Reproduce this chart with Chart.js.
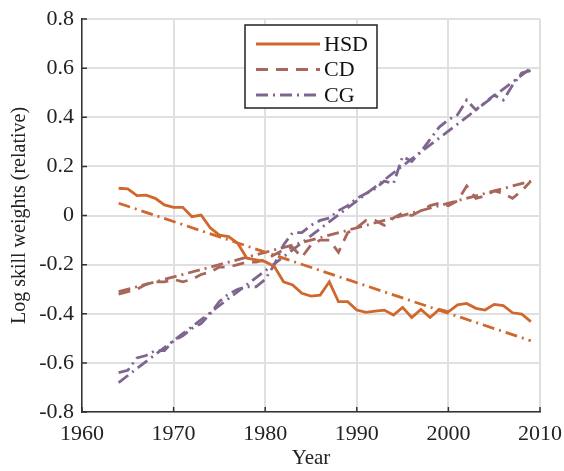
<!DOCTYPE html>
<html>
<head>
<meta charset="utf-8">
<script src="https://cdn.jsdelivr.net/npm/chart.js@4"></script>
<style>
  html, body { margin: 0; padding: 0; background: #fff; }
  #wrap { width: 564px; height: 471px; position: relative; }
</style>
</head>
<body>
<div id="wrap"><canvas id="chart" width="564" height="471"></canvas></div>
<script>
// Years and series
const years = [1964, 1965, 1966, 1967, 1968, 1969, 1970, 1971, 1972, 1973,
  1974, 1975, 1976, 1977, 1978, 1979, 1980, 1981, 1982, 1983,
  1984, 1985, 1986, 1987, 1988, 1989, 1990, 1991, 1992, 1993,
  1994, 1995, 1996, 1997, 1998, 1999, 2000, 2001, 2002, 2003,
  2004, 2005, 2006, 2007, 2008, 2009];

const hsd = [0.111, 0.108, 0.081, 0.083, 0.070, 0.043, 0.033, 0.033, -0.005, 0.002,
  -0.05, -0.08, -0.086, -0.113, -0.174, -0.181, -0.188, -0.208, -0.27, -0.283,
  -0.317, -0.328, -0.324, -0.27, -0.351, -0.351, -0.385, -0.394, -0.389, -0.385,
  -0.405, -0.374, -0.415, -0.382, -0.415, -0.382, -0.392, -0.364, -0.358, -0.378,
  -0.385, -0.362, -0.367, -0.396, -0.401, -0.432];

const cd = [-0.32, -0.31, -0.30, -0.28, -0.27, -0.27, -0.26, -0.27, -0.26, -0.24,
  -0.23, -0.21, -0.21, -0.20, -0.19, -0.19, -0.18, -0.16, -0.14, -0.13,
  -0.17, -0.12, -0.10, -0.10, -0.15, -0.07, -0.05, -0.02, -0.02, -0.04,
  -0.01, 0.01, 0.00, 0.02, 0.04, 0.05, 0.04, 0.06, 0.12, 0.07,
  0.08, 0.10, 0.09, 0.07, 0.10, 0.14];

const cg = [-0.64, -0.63, -0.58, -0.57, -0.55, -0.55, -0.51, -0.49, -0.46, -0.44,
  -0.40, -0.35, -0.32, -0.30, -0.29, -0.29, -0.26, -0.20, -0.12, -0.07,
  -0.07, -0.04, -0.02, -0.01, 0.02, 0.04, 0.07, 0.09, 0.11, 0.14,
  0.13, 0.24, 0.22, 0.26, 0.31, 0.36, 0.39, 0.41, 0.47, 0.43,
  0.46, 0.49, 0.47, 0.53, 0.58, 0.59];

// Trend line end points
const trendYears = [1964, 2009];
const hsdTrend = [0.05, -0.51];
const cdTrend = [-0.31, 0.14];
const cgTrend = [-0.68, 0.60];

const xTicks = [1960, 1970, 1980, 1990, 2000, 2010];

const colHSD = "#d0672c";
const colCD = "#a9665a";
const colCG = "#7e6690";
const dashed = [12, 8];
const dashDot = [12, 5, 2, 5];
const serif = "'Liberation Serif', 'DejaVu Serif', serif";

function toPoints(xs, ys) {
  return xs.map((x, i) => ({ x: x, y: ys[i] }));
}

function lineSet(label, xs, ys, color, dash) {
  return {
    label: label,
    data: toPoints(xs, ys),
    borderColor: color,
    borderWidth: 2.8,
    borderDash: dash,
    pointRadius: 0,
    fill: false,
    tension: 0,
  };
}

// legend drawn in the top middle of the plot, matlab style
const boxLegend = {
  id: "boxLegend",
  afterDatasetsDraw(chart) {
    const ctx = chart.ctx;
    const items = [
      ["HSD", colHSD, []],
      ["CD", colCD, dashed],
      ["CG", colCG, dashDot],
    ];
    const x0 = 245, y0 = 25, w = 132, h = 83;
    ctx.save();
    ctx.fillStyle = "#fff";
    ctx.fillRect(x0, y0, w, h);
    ctx.strokeStyle = "#222";
    ctx.lineWidth = 1.5;
    ctx.setLineDash([]);
    ctx.strokeRect(x0, y0, w, h);
    ctx.font = "22px " + serif;
    ctx.textBaseline = "middle";
    items.forEach((it, i) => {
      const y = y0 + 19 + i * 25.5;
      ctx.strokeStyle = it[1];
      ctx.lineWidth = 2.8;
      ctx.setLineDash(it[2]);
      ctx.beginPath();
      ctx.moveTo(x0 + 11, y);
      ctx.lineTo(x0 + 75, y);
      ctx.stroke();
      ctx.fillStyle = "#111";
      ctx.fillText(it[0], x0 + 79, y + 1);
    });
    ctx.restore();
  },
};

// small inward tick marks on the left and bottom axes
const innerTicks = {
  id: "innerTicks",
  afterDraw(chart) {
    const ctx = chart.ctx;
    const a = chart.chartArea;
    const xs = chart.scales.x, ys = chart.scales.y;
    ctx.save();
    ctx.strokeStyle = "#333";
    ctx.lineWidth = 1.5;
    ctx.beginPath();
    xs.ticks.forEach((t) => {
      const px = xs.getPixelForValue(t.value);
      ctx.moveTo(px, a.bottom);
      ctx.lineTo(px, a.bottom - 5);
    });
    ys.ticks.forEach((t) => {
      const py = ys.getPixelForValue(t.value);
      ctx.moveTo(a.left, py);
      ctx.lineTo(a.left + 5, py);
    });
    ctx.stroke();
    ctx.restore();
  },
};

const ctx = document.getElementById("chart").getContext("2d");
new Chart(ctx, {
  type: "line",
  data: {
    datasets: [
      lineSet("HSD", years, hsd, colHSD, []),
      lineSet("CD", years, cd, colCD, dashed),
      lineSet("CG", years, cg, colCG, dashDot),
      lineSet("HSD trend", trendYears, hsdTrend, colHSD, dashDot),
      lineSet("CD trend", trendYears, cdTrend, colCD, dashDot),
      lineSet("CG trend", trendYears, cgTrend, colCG, dashDot),
    ],
  },
  options: {
    responsive: false,
    animation: false,
    layout: { padding: { left: 0, right: 24, top: 19, bottom: 0 } },
    plugins: {
      legend: { display: false },
      tooltip: { enabled: false },
    },
    scales: {
      x: {
        type: "linear",
        min: 1960,
        max: 2010,
        afterBuildTicks: (scale) => {
          scale.ticks = xTicks.map((v) => ({ value: v }));
        },
        afterFit: (scale) => {
          scale.height = 59;
          scale.paddingLeft = 0;
          scale.paddingRight = 0;
        },
        grid: { color: "#e0e0e0", lineWidth: 2, drawTicks: false },
        border: { display: true, color: "#333", width: 1.5 },
        ticks: {
          padding: 9,
          color: "#222",
          font: { family: serif, size: 22 },
          callback: (v) => String(v),
          maxRotation: 0,
        },
        title: {
          display: true,
          text: "Year",
          color: "#222",
          font: { family: serif, size: 21 },
          padding: { top: 0, bottom: 0 },
        },
      },
      y: {
        min: -0.8,
        max: 0.8,
        ticks: {
          stepSize: 0.2,
          padding: 8,
          color: "#222",
          font: { family: serif, size: 22 },
          callback: (v) => String(Math.round(v * 10) / 10),
        },
        afterFit: (scale) => {
          scale.width = 82;
          scale.paddingTop = 0;
          scale.paddingBottom = 0;
        },
        grid: { color: "#e0e0e0", lineWidth: 2, drawTicks: false },
        border: { display: true, color: "#333", width: 1.5 },
        title: {
          display: true,
          text: "Log skill weights (relative)",
          color: "#222",
          font: { family: serif, size: 20 },
          padding: { top: 8, bottom: 0 },
        },
      },
    },
  },
  plugins: [boxLegend, innerTicks],
});
</script>
</body>
</html>
